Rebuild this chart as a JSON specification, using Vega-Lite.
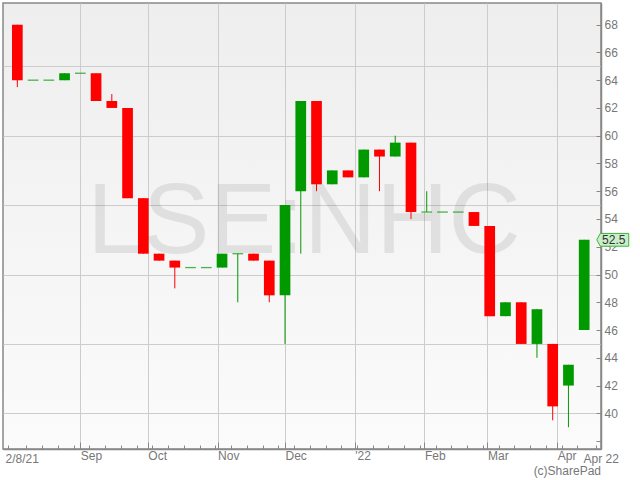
{
  "$schema": "https://vega.github.io/schema/vega-lite/v6.json",
  "width": 598,
  "height": 446,
  "padding": {"left": 3, "top": 3, "right": 5, "bottom": 4},
  "background": "#ffffff",
  "title": {"text": "(c)SharePad", "orient": "bottom", "anchor": "end", "frame": "group", "fontSize": 12, "fontWeight": "normal", "font": "Liberation Sans", "color": "#777777", "offset": 2},
  "config": {
    "view": {"stroke": "#888888", "strokeWidth": 1.5, "fill": {"gradient": "linear", "x1": 0, "y1": 0, "x2": 0, "y2": 1, "stops": [{"offset": 0, "color": "#eeeeee"}, {"offset": 1, "color": "#fbfbfb"}]}},
    "axis": {"labelFont": "Liberation Sans", "labelFontSize": 12, "labelColor": "#777777", "domainColor": "#888888", "domainWidth": 1.5, "tickColor": "#888888", "gridColor": "#cccccc", "gridWidth": 1, "title": null}
  },
  "data": {"values": [
    {"date": "2021-08-04", "open": 68, "high": 68, "low": 63.5, "close": 64},
    {"date": "2021-08-11", "open": 64, "high": 64, "low": 64, "close": 64},
    {"date": "2021-08-18", "open": 64, "high": 64, "low": 64, "close": 64},
    {"date": "2021-08-25", "open": 64, "high": 64.5, "low": 64, "close": 64.5},
    {"date": "2021-09-01", "open": 64.5, "high": 64.5, "low": 64.5, "close": 64.5},
    {"date": "2021-09-08", "open": 64.5, "high": 64.5, "low": 62.5, "close": 62.5},
    {"date": "2021-09-15", "open": 62.5, "high": 63, "low": 62, "close": 62},
    {"date": "2021-09-22", "open": 62, "high": 62, "low": 55.5, "close": 55.5},
    {"date": "2021-09-29", "open": 55.5, "high": 55.5, "low": 51.5, "close": 51.5},
    {"date": "2021-10-06", "open": 51.5, "high": 51.5, "low": 51, "close": 51},
    {"date": "2021-10-13", "open": 51, "high": 51, "low": 49, "close": 50.5},
    {"date": "2021-10-20", "open": 50.5, "high": 50.5, "low": 50.5, "close": 50.5},
    {"date": "2021-10-27", "open": 50.5, "high": 50.5, "low": 50.5, "close": 50.5},
    {"date": "2021-11-03", "open": 50.5, "high": 51.5, "low": 50.5, "close": 51.5},
    {"date": "2021-11-10", "open": 51.5, "high": 51.5, "low": 48, "close": 51.5},
    {"date": "2021-11-17", "open": 51.5, "high": 51.5, "low": 51, "close": 51},
    {"date": "2021-11-24", "open": 51, "high": 51, "low": 48, "close": 48.5},
    {"date": "2021-12-01", "open": 48.5, "high": 55, "low": 45, "close": 55},
    {"date": "2021-12-08", "open": 56, "high": 62.5, "low": 51.5, "close": 62.5},
    {"date": "2021-12-15", "open": 62.5, "high": 62.5, "low": 56, "close": 56.5},
    {"date": "2021-12-22", "open": 56.5, "high": 57.5, "low": 56.5, "close": 57.5},
    {"date": "2021-12-29", "open": 57.5, "high": 57.5, "low": 57, "close": 57},
    {"date": "2022-01-05", "open": 57, "high": 59, "low": 57, "close": 59},
    {"date": "2022-01-12", "open": 59, "high": 59, "low": 56, "close": 58.5},
    {"date": "2022-01-19", "open": 58.5, "high": 60, "low": 58.5, "close": 59.5},
    {"date": "2022-01-26", "open": 59.5, "high": 59.5, "low": 54, "close": 54.5},
    {"date": "2022-02-02", "open": 54.5, "high": 56, "low": 54.5, "close": 54.5},
    {"date": "2022-02-09", "open": 54.5, "high": 54.5, "low": 54.5, "close": 54.5},
    {"date": "2022-02-16", "open": 54.5, "high": 54.5, "low": 54.5, "close": 54.5},
    {"date": "2022-02-23", "open": 54.5, "high": 54.5, "low": 53.5, "close": 53.5},
    {"date": "2022-03-02", "open": 53.5, "high": 53.5, "low": 47, "close": 47},
    {"date": "2022-03-09", "open": 47, "high": 48, "low": 47, "close": 48},
    {"date": "2022-03-16", "open": 48, "high": 48, "low": 45, "close": 45},
    {"date": "2022-03-23", "open": 45, "high": 47.5, "low": 44, "close": 47.5},
    {"date": "2022-03-30", "open": 45, "high": 45, "low": 39.5, "close": 40.5},
    {"date": "2022-04-06", "open": 42, "high": 43.5, "low": 39, "close": 43.5},
    {"date": "2022-04-13", "open": 46, "high": 52.5, "low": 46, "close": 52.5}
  ]},
  "layer": [
    {
      "data": {"values": [{"name": "LSE:NHC"}]},
      "mark": {"type": "text", "font": "Liberation Sans", "fontSize": 100, "align": "center", "baseline": "alphabetic", "color": "#000000", "opacity": 0.08},
      "encoding": {
        "x": {"datum": {"year": 2021, "month": 12, "date": 9, "hours": 10, "utc": true}, "type": "temporal",
          "scale": {"type": "utc", "nice": false, "domain": [{"year": 2021, "month": 7, "date": 30, "hours": 20, "minutes": 20, "utc": true}, {"year": 2022, "month": 4, "date": 18, "hours": 6, "utc": true}]},
          "axis": {
            "orient": "bottom",
            "tickCount": 200,
            "values": [
              {"year": 2021, "month": 7, "date": 30, "hours": 20, "minutes": 20, "utc": true},
              {"year": 2021, "month": 8, "date": 8, "utc": true},
              {"year": 2021, "month": 8, "date": 15, "utc": true},
              {"year": 2021, "month": 8, "date": 22, "utc": true},
              {"year": 2021, "month": 8, "date": 29, "utc": true},
              {"year": 2021, "month": 9, "date": 1, "utc": true},
              {"year": 2021, "month": 9, "date": 5, "utc": true},
              {"year": 2021, "month": 9, "date": 12, "utc": true},
              {"year": 2021, "month": 9, "date": 19, "utc": true},
              {"year": 2021, "month": 9, "date": 26, "utc": true},
              {"year": 2021, "month": 10, "date": 1, "utc": true},
              {"year": 2021, "month": 10, "date": 3, "utc": true},
              {"year": 2021, "month": 10, "date": 10, "utc": true},
              {"year": 2021, "month": 10, "date": 17, "utc": true},
              {"year": 2021, "month": 10, "date": 24, "utc": true},
              {"year": 2021, "month": 10, "date": 31, "utc": true},
              {"year": 2021, "month": 11, "date": 1, "utc": true},
              {"year": 2021, "month": 11, "date": 7, "utc": true},
              {"year": 2021, "month": 11, "date": 14, "utc": true},
              {"year": 2021, "month": 11, "date": 21, "utc": true},
              {"year": 2021, "month": 11, "date": 28, "utc": true},
              {"year": 2021, "month": 12, "date": 1, "utc": true},
              {"year": 2021, "month": 12, "date": 5, "utc": true},
              {"year": 2021, "month": 12, "date": 12, "utc": true},
              {"year": 2021, "month": 12, "date": 19, "utc": true},
              {"year": 2021, "month": 12, "date": 26, "utc": true},
              {"year": 2022, "month": 1, "date": 1, "utc": true},
              {"year": 2022, "month": 1, "date": 2, "utc": true},
              {"year": 2022, "month": 1, "date": 9, "utc": true},
              {"year": 2022, "month": 1, "date": 16, "utc": true},
              {"year": 2022, "month": 1, "date": 23, "utc": true},
              {"year": 2022, "month": 1, "date": 30, "utc": true},
              {"year": 2022, "month": 2, "date": 1, "utc": true},
              {"year": 2022, "month": 2, "date": 6, "utc": true},
              {"year": 2022, "month": 2, "date": 13, "utc": true},
              {"year": 2022, "month": 2, "date": 20, "utc": true},
              {"year": 2022, "month": 2, "date": 27, "utc": true},
              {"year": 2022, "month": 3, "date": 1, "utc": true},
              {"year": 2022, "month": 3, "date": 6, "utc": true},
              {"year": 2022, "month": 3, "date": 13, "utc": true},
              {"year": 2022, "month": 3, "date": 20, "utc": true},
              {"year": 2022, "month": 3, "date": 27, "utc": true},
              {"year": 2022, "month": 4, "date": 1, "utc": true},
              {"year": 2022, "month": 4, "date": 3, "utc": true},
              {"year": 2022, "month": 4, "date": 10, "utc": true},
              {"year": 2022, "month": 4, "date": 18, "hours": 6, "utc": true}
            ],
            "labelExpr": "utcdate(datum.value) == 1 ? (utcmonth(datum.value) == 0 ? \"'22\" : utcFormat(datum.value, '%b')) : datum.value < 1628000000000 ? '2/8/21' : datum.value > 1650200000000 ? 'Apr 22' : ''",
            "labelOverlap": false,
            "labelFlush": false,
            "labelAlign": "left",
            "labelBaseline": "top",
            "labelPadding": 8,
            "labelOffset": {"condition": [{"test": "datum.value > 1650200000000", "value": -13}, {"test": "datum.value < 1628000000000", "value": -3}], "value": 0},
            "tickSize": {"condition": {"test": "utcdate(datum.value) == 1", "value": -7}, "value": -4},
            "grid": true,
            "gridOpacity": {"condition": {"test": "utcdate(datum.value) == 1", "value": 1}, "value": 0}
          }
        },
        "y": {"datum": 51.53, "type": "quantitative",
          "scale": {"domain": [37.43, 69.56], "nice": false, "zero": false},
          "axis": {
            "orient": "right",
            "tickCount": 200,
            "format": "d",
            "values": [38, 40, 42, 44, 45, 46, 48, 50, 52, 54, 55, 56, 58, 60, 62, 64, 65, 66, 68],
            "labelExpr": "datum.value % 2 == 0 && datum.value != 38 ? datum.label : ''",
            "labelOverlap": false,
            "labelFlush": false,
            "labelBaseline": "middle",
            "labelPadding": 8,
            "tickSize": -5,
            "tickOpacity": {"condition": {"test": "datum.value % 2 == 0", "value": 1}, "value": 0},
            "grid": true,
            "gridOpacity": {"condition": {"test": "datum.value % 5 == 0", "value": 1}, "value": 0}
          }
        },
        "text": {"field": "name"}
      }
    },
    {
      "mark": {"type": "rule", "strokeWidth": 1},
      "encoding": {
        "x": {"field": "date", "type": "temporal", "scale": {"type": "utc", "nice": false, "domain": [{"year": 2021, "month": 7, "date": 30, "hours": 20, "minutes": 20, "utc": true}, {"year": 2022, "month": 4, "date": 18, "hours": 6, "utc": true}]}},
        "y": {"field": "low", "type": "quantitative", "scale": {"domain": [37.43, 69.56], "nice": false, "zero": false}},
        "y2": {"field": "high"},
        "color": {"condition": {"test": "datum.close < datum.open", "value": "#ff0000"}, "value": "#009900"}
      }
    },
    {
      "transform": [{"filter": "datum.open != datum.close"}],
      "mark": {"type": "bar", "width": 10.7},
      "encoding": {
        "x": {"field": "date", "type": "temporal", "scale": {"type": "utc", "nice": false, "domain": [{"year": 2021, "month": 7, "date": 30, "hours": 20, "minutes": 20, "utc": true}, {"year": 2022, "month": 4, "date": 18, "hours": 6, "utc": true}]}},
        "y": {"field": "open", "type": "quantitative", "scale": {"domain": [37.43, 69.56], "nice": false, "zero": false}},
        "y2": {"field": "close"},
        "color": {"condition": {"test": "datum.close < datum.open", "value": "#ff0000"}, "value": "#009900"}
      }
    },
    {
      "transform": [{"filter": "datum.open == datum.close"}],
      "mark": {"type": "tick", "orient": "horizontal", "size": 10.7, "thickness": 1.3, "color": "#009900"},
      "encoding": {
        "x": {"field": "date", "type": "temporal", "scale": {"type": "utc", "nice": false, "domain": [{"year": 2021, "month": 7, "date": 30, "hours": 20, "minutes": 20, "utc": true}, {"year": 2022, "month": 4, "date": 18, "hours": 6, "utc": true}]}},
        "y": {"field": "close", "type": "quantitative", "scale": {"domain": [37.43, 69.56], "nice": false, "zero": false}}
      }
    },
    {
      "data": {"values": [{"last": 52.5}]},
      "mark": {"type": "point", "filled": true, "clip": false, "shape": "M-1,0L-0.78,-0.4L1,-0.4L1,0.4L-0.78,0.4Z", "size": 1024, "fill": "#c9efc9", "stroke": "#3cb43c", "strokeWidth": 1, "opacity": 1},
      "encoding": {
        "x": {"datum": {"year": 2022, "month": 4, "date": 25, "hours": 16, "minutes": 45, "utc": true}, "type": "temporal", "scale": {"type": "utc", "nice": false, "domain": [{"year": 2021, "month": 7, "date": 30, "hours": 20, "minutes": 20, "utc": true}, {"year": 2022, "month": 4, "date": 18, "hours": 6, "utc": true}]}},
        "y": {"field": "last", "type": "quantitative", "scale": {"domain": [37.43, 69.56], "nice": false, "zero": false}}
      }
    },
    {
      "data": {"values": [{"last": 52.5}]},
      "mark": {"type": "text", "clip": false, "font": "Liberation Sans", "fontSize": 12, "color": "#333333", "align": "center", "baseline": "middle", "dx": 1},
      "encoding": {
        "x": {"datum": {"year": 2022, "month": 4, "date": 25, "hours": 16, "minutes": 45, "utc": true}, "type": "temporal", "scale": {"type": "utc", "nice": false, "domain": [{"year": 2021, "month": 7, "date": 30, "hours": 20, "minutes": 20, "utc": true}, {"year": 2022, "month": 4, "date": 18, "hours": 6, "utc": true}]}},
        "y": {"field": "last", "type": "quantitative", "scale": {"domain": [37.43, 69.56], "nice": false, "zero": false}},
        "text": {"field": "last", "type": "quantitative", "format": ".1f"}
      }
    }
  ]
}
